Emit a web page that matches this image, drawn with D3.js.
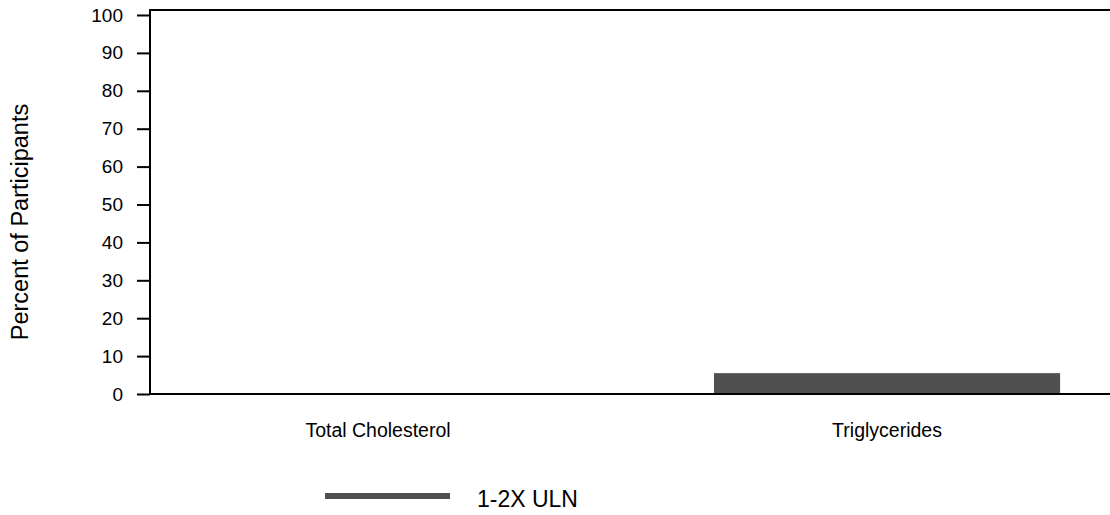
<!DOCTYPE html>
<html><head><meta charset="utf-8">
<script src="https://cdn.jsdelivr.net/npm/d3@7"></script>
<style>body{margin:0;background:#fff}svg{display:block;font-family:"Liberation Sans",Arial,sans-serif}</style>
</head><body><svg id="c" width="1110" height="515"></svg>
<script>
const categories = ["Total Cholesterol", "Triglycerides"];
const values = [0, 5.5];
const yTicks = [0, 10, 20, 30, 40, 50, 60, 70, 80, 90, 100];
const seriesName = "1-2X ULN";
const yTitle = "Percent of Participants";

(function () {
const svg = d3.select("#c");
const mLeft = 150, mRight = 1110, mTop = 10, mBottom = 394, yTopVal = 15;
const barColor = "#505050";

const x = d3.scaleBand().domain(categories).range([mLeft, mRight])
  .paddingInner(0.32).paddingOuter(0.103).align(0.524);
const y = d3.scaleLinear().domain([0, 100]).range([mBottom, yTopVal]);

// bars
svg.append("g").selectAll("rect").data(values).join("rect")
  .attr("x", (d, i) => x(categories[i]))
  .attr("width", x.bandwidth())
  .attr("y", d => y(d))
  .attr("height", d => y(0) - y(d))
  .attr("fill", barColor);

// top border
svg.append("line").attr("x1", mLeft - 1).attr("x2", mRight).attr("y1", mTop).attr("y2", mTop)
  .attr("stroke", "#000").attr("stroke-width", 2);

// y axis
const ya = svg.append("g").attr("transform", `translate(${mLeft},0)`)
  .call(d3.axisLeft(y).tickValues(yTicks).tickSize(13).tickPadding(14).tickSizeOuter(0));
ya.select(".domain").attr("d", `M0,${mTop}V${mBottom}`).attr("stroke-width", 2);
ya.selectAll(".tick line").attr("stroke-width", 2);
ya.selectAll(".tick text").attr("font-size", 19).attr("font-family", "Liberation Sans, Arial, sans-serif").attr("fill", "#000");

// x axis
const xa = svg.append("g").attr("transform", `translate(0,${mBottom})`)
  .call(d3.axisBottom(x).tickSize(0).tickPadding(29).tickSizeOuter(0));
xa.select(".domain").attr("d", `M${mLeft},0H${mRight}`).attr("stroke-width", 2);
xa.selectAll(".tick text").attr("font-size", 19.5).attr("font-family", "Liberation Sans, Arial, sans-serif").attr("fill", "#000");

// y title
svg.append("text").attr("transform", "translate(28,222) rotate(-90)")
  .attr("text-anchor", "middle").attr("font-size", 23.5).attr("fill", "#000").text(yTitle);

// legend
svg.append("rect").attr("x", 325).attr("y", 493).attr("width", 125).attr("height", 6).attr("fill", barColor);
svg.append("text").attr("x", 477).attr("y", 507).attr("font-size", 23).attr("fill", "#000").text(seriesName);
})();
</script></body></html>
